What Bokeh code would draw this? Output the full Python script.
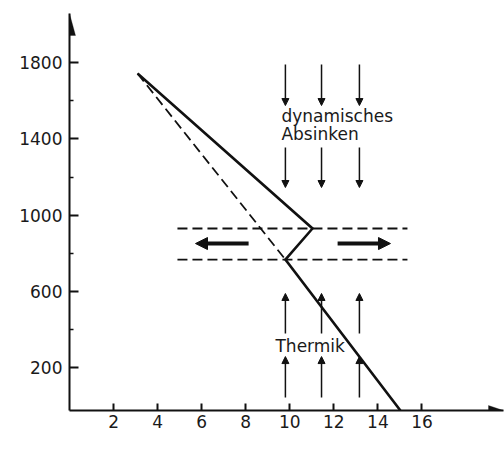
from bokeh.plotting import figure
from bokeh.models import (Arrow, NormalHead, Label, PolyAnnotation, FixedTicker,
                          ColumnDataSource, Range1d)
from bokeh.embed import file_html
from bokeh.resources import INLINE

# ---- data ----
solid_temp = [3.09, 11.03, 9.80, 15.02]      # actual temperature profile
solid_alt = [1743, 930, 767, -25]
dashed_temp = [3.09, 9.80]                    # dry-adiabatic continuation
dashed_alt = [1743, 767]
layer_top = 930                               # inversion layer bounds
layer_bottom = 767
layer_temp = [4.9, 15.34]
outflow_alt = 851
outflow_left = [8.13, 5.72]
outflow_right = [12.17, 14.57]
arrow_temp = [9.80, 11.44, 13.16]
sink_upper = [1790, 1575]
sink_lower = [1355, 1145]
rise_upper = [379, 589]
rise_lower = [43, 258]
x_ticks = [2, 4, 6, 8, 10, 12, 14, 16]
y_ticks = [200, 600, 1000, 1400, 1800]
y_minor = [400, 800, 1200, 1600]
x_lim = (0, 19.7)
y_lim = (-25, 2058)

INK = "#111111"
TXT = "#1a1a1a"
FONT = "DejaVu Sans"

W, H = 504, 459
ML, MR, MT, MB = 69, 1, 13, 49

p = figure(width=W, height=H, x_range=Range1d(*x_lim), y_range=Range1d(*y_lim),
           output_backend="svg", toolbar_location=None,
           min_border_left=ML, min_border_right=MR, min_border_top=MT, min_border_bottom=MB)
p.outline_line_color = None
p.xgrid.visible = False
p.ygrid.visible = False
p.background_fill_color = "white"
p.border_fill_color = "white"

for ax in (p.xaxis, p.yaxis):
    ax.axis_line_width = 2
    ax.axis_line_color = INK
    ax.major_tick_line_color = INK
    ax.minor_tick_line_color = INK
    ax.major_tick_line_width = 2
    ax.minor_tick_line_width = 1.5
    ax.major_label_text_font = FONT
    ax.major_label_text_font_size = "17px"
    ax.major_label_text_color = TXT

p.xaxis.ticker = FixedTicker(ticks=x_ticks)
p.xaxis.major_tick_in = 7
p.xaxis.major_tick_out = 0
p.xaxis.minor_tick_in = 0
p.xaxis.minor_tick_out = 0
p.xaxis.major_label_standoff = 4

p.yaxis.ticker = FixedTicker(ticks=y_ticks, minor_ticks=y_minor)
p.yaxis.major_tick_in = 9
p.yaxis.major_tick_out = 0
p.yaxis.minor_tick_in = 4
p.yaxis.minor_tick_out = 0
p.yaxis.major_label_standoff = 7

# axis arrow heads (sizes in pixels converted to data units)
fw = W - ML - MR
fh = H - MT - MB
ux = (x_lim[1] - x_lim[0]) / fw
uy = (y_lim[1] - y_lim[0]) / fh
p.add_layout(PolyAnnotation(
    xs=[x_lim[0], x_lim[0] - 6 * ux, x_lim[0] + 6 * ux],
    ys=[y_lim[1], y_lim[1] - 22 * uy, y_lim[1] - 22 * uy],
    fill_color=INK, fill_alpha=1, line_color=INK, line_width=1))
p.add_layout(PolyAnnotation(
    xs=[x_lim[1], x_lim[1] - 15 * ux, x_lim[1] - 15 * ux],
    ys=[y_lim[0], y_lim[0] + 5 * uy, y_lim[0] - 5 * uy],
    fill_color=INK, fill_alpha=1, line_color=INK, line_width=1))

# layer bounds
for lvl in (layer_top, layer_bottom):
    p.line(layer_temp, [lvl, lvl], line_color=INK, line_width=1.8, line_dash="10 5")

# dry adiabatic (dashed) and actual profile (solid)
p.line(dashed_temp, dashed_alt, line_color=INK, line_width=1.8, line_dash="10 5")
p.line(solid_temp, solid_alt, line_color=INK, line_width=2.6, line_join="miter")

# horizontal outflow arrows
for seg in (outflow_left, outflow_right):
    p.add_layout(Arrow(end=NormalHead(size=12, fill_color=INK, line_color=INK),
                       x_start=seg[0], y_start=outflow_alt, x_end=seg[1], y_end=outflow_alt,
                       line_color=INK, line_width=4))

# vertical arrows
xs_s, ys_s, xs_e, ys_e = [], [], [], []
for grp in (sink_upper, sink_lower, rise_upper, rise_lower):
    for xv in arrow_temp:
        xs_s.append(xv); xs_e.append(xv)
        ys_s.append(grp[0]); ys_e.append(grp[1])
src = ColumnDataSource(dict(x0=xs_s, y0=ys_s, x1=xs_e, y1=ys_e))
p.add_layout(Arrow(end=NormalHead(size=7, fill_color=INK, line_color=INK, line_width=1),
                   x_start="x0", y_start="y0", x_end="x1", y_end="y1", source=src,
                   line_color=INK, line_width=1.5))

# texts
def lab(x, y, t):
    p.add_layout(Label(x=x, y=y, text=t, text_font=FONT, text_font_size="17px",
                       text_color=TXT, text_align="left", text_baseline="alphabetic"))

lab(9.62, 1522, "dynamisches")
lab(9.62, 1425, "Absinken")
lab(9.35, 316, "Thermik")
lab(7.26, -218, "Temperatur / C°")

open("out.html", "w").write(file_html(p, INLINE))
